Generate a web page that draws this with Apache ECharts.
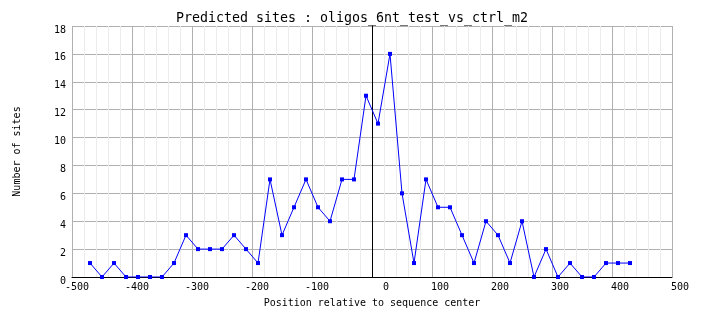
<!DOCTYPE html>
<html>
<head>
<meta charset="utf-8">
<script src="https://cdn.jsdelivr.net/npm/echarts@6/dist/echarts.min.js"></script>
<style>
  html, body { margin: 0; padding: 0; background: #ffffff; }
  #chart { width: 704px; height: 328px; }
</style>
</head>
<body>
<div id="chart"></div>
<script>
// Bin centres (bp from sequence centre) and predicted site counts per bin
const positions = [-470, -450, -430, -410, -390, -370, -350, -330, -310, -290,
                   -270, -250, -230, -210, -190, -170, -150, -130, -110, -90,
                   -70, -50, -30, -10, 10, 30, 50, 70, 90, 110,
                   130, 150, 170, 190, 210, 230, 250, 270, 290, 310,
                   330, 350, 370, 390, 410, 430];
const siteCounts = [1, 0, 1, 0, 0, 0, 0, 1, 3, 2,
                    2, 2, 3, 2, 1, 7, 3, 5, 7, 5,
                    4, 7, 7, 13, 11, 16, 6, 1, 7, 5,
                    5, 3, 1, 4, 3, 1, 4, 0, 2, 0,
                    1, 0, 0, 1, 1, 1];

const titleText = 'Predicted sites : oligos_6nt_test_vs_ctrl_m2';
const xAxisTitle = 'Position relative to sequence center';
const yAxisTitle = 'Number of sites';

const mono = 'DejaVu Sans Mono';
const chart = echarts.init(document.getElementById('chart'), null, { renderer: 'canvas' });

chart.setOption({
  backgroundColor: '#ffffff',
  animation: false,
  title: {
    text: titleText,
    left: 'center',
    top: 7,
    textStyle: { fontFamily: mono, fontSize: 13.3, fontWeight: 'normal', color: '#000' }
  },
  grid: { left: 72, right: 32, top: 26, bottom: 51, containLabel: false },
  xAxis: {
    type: 'value',
    min: -500,
    max: 500,
    interval: 100,
    name: xAxisTitle,
    nameLocation: 'middle',
    nameGap: 21,
    nameTextStyle: { fontFamily: mono, fontSize: 10, color: '#000' },
    axisLine: { show: true, onZero: false, lineStyle: { color: '#000', width: 1 } },
    axisTick: { show: false },
    axisLabel: {
      margin: 5,
      align: 'center',
      // tick values sit right-aligned a little past each grid line
      formatter: v => '{t|' + v + '}',
      rich: { t: { width: 34, align: 'right', fontFamily: mono, fontSize: 10, color: '#000' } }
    },
    splitLine: { show: true, lineStyle: { color: '#b0b0b0', width: 1 } },
    minorTick: { show: false, splitNumber: 5 },
    minorSplitLine: { show: true, lineStyle: { color: '#ececec', width: 1 } }
  },
  yAxis: {
    type: 'value',
    min: 0,
    max: 18,
    interval: 2,
    name: yAxisTitle,
    nameLocation: 'middle',
    nameGap: 50,
    nameRotate: 90,
    nameTextStyle: { fontFamily: mono, fontSize: 10, color: '#000' },
    axisLine: { show: true, lineStyle: { color: '#000', width: 1 } },
    axisTick: { show: false },
    axisLabel: {
      margin: 6,
      formatter: v => '{t|' + v + '}',
      rich: { t: { padding: [8, 0, 0, 0], fontFamily: mono, fontSize: 10, color: '#000' } }
    },
    splitLine: { show: true, lineStyle: { color: '#b0b0b0', width: 1 } }
  },
  series: [{
    type: 'line',
    data: positions.map((p, i) => [p, siteCounts[i]]),
    symbol: 'rect',
    symbolSize: 4,
    showAllSymbol: true,
    lineStyle: { color: '#0000ff', width: 1 },
    itemStyle: { color: '#0000ff' },
    z: 5,
    markLine: {
      silent: true,
      symbol: 'none',
      label: { show: false },
      lineStyle: { color: '#000', width: 1, type: 'solid' },
      data: [{ xAxis: 0 }],
      z: 3
    }
  }]
});
</script>
</body>
</html>
